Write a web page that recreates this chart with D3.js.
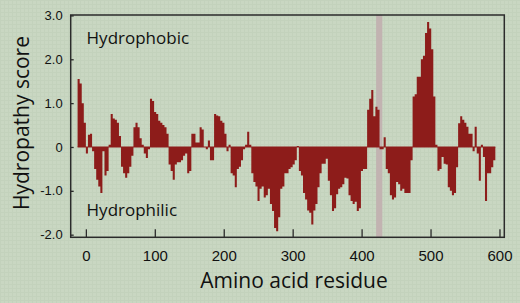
<!DOCTYPE html>
<html>
<head>
<meta charset="utf-8">
<script src="https://cdn.jsdelivr.net/npm/d3@7"></script>
<style>
  html, body { margin: 0; padding: 0; background: #c9d7c2; }
  svg { display: block; font-family: 'Open Sans', 'Liberation Sans', sans-serif; }
</style>
</head>
<body>
<div id="grafico"></div>
<script>
// Hydropathy scores, one value per window of 3 residues, starting at residue -12
const residueStart = -12;
const residueStep = 3;
const scores = [
  1.55, 1.45, 1.0, 0.55, -0.15, 0.28, 0.3, -0.1, -0.5, -0.75,
  -0.9, -1.05, -0.1, -0.65, -0.55, 0.05, 0.75, 0.65, 0.62, 0.55,
  0.25, -0.45, -0.6, -0.7, -0.6, -0.45, -0.2, 0.45, 0.55, 0.45,
  0.2, 0.05, -0.15, -0.25, -0.05, 1.1, 1.05, 0.8, 0.75, 0.6,
  0.55, 0.5, 0.45, 0.3, -0.4, -0.55, -0.75, -0.4, -0.35, -0.35,
  -0.3, -0.2, -0.15, -0.6, -0.55, 0.3, 0.3, 0.1, 0.1, 0.45,
  0.4, 0.0, -0.05, 0.15, -0.3, -0.3, 0.75, 0.72, 0.7, 0.6,
  0.55, 0.3, -0.1, 0.05, -0.6, -0.65, -0.92, -0.5, -0.45, -0.3,
  -0.05, 0.05, 0.35, 0.05, -0.6, -0.8, -0.9, -1.23, -0.95, -0.9,
  -1.15, -1.1, -0.95, -1.3, -1.46, -1.85, -1.92, -1.6, -0.95, -0.9,
  -0.6, -0.6, -0.5, -0.46, -0.4, -0.3, 0.02, -0.55, -0.65, -1.05,
  -1.2, -1.45, -1.5, -1.77, -1.45, -1.3, -0.92, -0.6, -0.38, -0.38,
  -0.27, -0.77, -1.1, -1.46, -1.4, -1.08, -0.95, -0.92, -0.85, -0.7,
  -0.72, -1.1, -1.23, -1.3, -1.25, -1.46, -1.4, -0.55, -0.5, -0.5,
  0.85, 1.1, 1.3, 0.7, 0.92, 0.85, -0.05, -0.05, 0.22, -0.5,
  -0.6, -1.1, -1.2, -1.15, -0.8, -0.85, -1.0, -0.95, -1.05, -1.05,
  -1.05, -0.3, 1.15, 1.2, 1.6, 1.6, 2.0, 2.08, 2.6, 2.85,
  2.7, 2.23, 1.15, 0.05, -0.54, -0.5, -0.23, -0.38, -0.4, -0.92,
  -1.0, -1.1, -1.05, -0.46, 0.54, 0.7, 0.62, 0.55, 0.46, 0.3,
  0.3, -0.1, 0.46, -0.15, -0.77, 0.05, -0.23, -1.23, -0.6, -0.6,
  -0.46, -0.3
];

// Highlighted residue range (grey band)
const highlight = [421, 430];

// Axis ticks
const xTicks = [0, 100, 200, 300, 400, 500, 600];
const yTicks = [-2, -1, 0, 1, 2, 3];
const yTickLabels = ['-2.0', '-1.0', '0', '1.0', '2.0', '3.0'];

function criarGrafico() {
  const largura = 520;
  const altura = 303;
  const margem = { top: 15, right: 15.7, bottom: 65.7, left: 70.7 };
  const w = largura - margem.left - margem.right;
  const h = altura - margem.top - margem.bottom;

  const svg = d3
    .select('#grafico')
    .append('svg')
    .attr('width', largura)
    .attr('height', altura);

  // Fine grid texture of the background
  const pattern = svg
    .append('defs')
    .append('pattern')
    .attr('id', 'textura')
    .attr('width', 4)
    .attr('height', 4)
    .attr('patternUnits', 'userSpaceOnUse');
  pattern.append('rect').attr('width', 4).attr('height', 4).attr('fill', '#c9d7c2');
  pattern.append('rect').attr('width', 4).attr('height', 1).attr('fill', '#c3d2bc');
  pattern.append('rect').attr('width', 1).attr('height', 4).attr('fill', '#c3d2bc');

  svg
    .append('rect')
    .attr('width', largura)
    .attr('height', altura)
    .attr('fill', 'url(#textura)');

  const g = svg.append('g').attr('transform', `translate(${margem.left},${margem.top})`);

  const x = d3.scaleLinear().domain([-22, 607]).range([0, w]);
  const y = d3.scaleLinear().domain([-2.06, 3.01]).range([h, 0]);

  // Grey band
  g.append('rect')
    .attr('x', x(highlight[0]))
    .attr('width', x(highlight[1]) - x(highlight[0]))
    .attr('y', 0)
    .attr('height', h)
    .attr('fill', '#c2b3b1');

  const dados = scores.map((v, i) => ({ r: residueStart + i * residueStep, v }));
  // last point closes the final step
  dados.push({ r: residueStart + scores.length * residueStep, v: scores[scores.length - 1] });

  // Bars from zero, drawn as one stepped area so no seams show
  const area = d3
    .area()
    .curve(d3.curveStepAfter)
    .x((d) => x(d.r))
    .y0(y(0))
    .y1((d) => y(d.v));

  g.append('path').datum(dados).attr('d', area).attr('fill', '#8d1c1a');

  // Zero line
  g.append('line')
    .attr('x1', x(residueStart))
    .attr('x2', x(residueStart + scores.length * residueStep))
    .attr('y1', y(0))
    .attr('y2', y(0))
    .attr('stroke', '#8d1c1a')
    .attr('stroke-width', 1.2);

  // X axis: ticks pointing inward
  const eixoX = g
    .append('g')
    .attr('transform', `translate(0,${h})`)
    .call(d3.axisBottom(x).tickValues(xTicks).tickSize(-8).tickPadding(13).tickFormat(d3.format('d')));
  eixoX.select('.domain').remove();
  eixoX.selectAll('line').attr('stroke', '#2b2b2b').attr('stroke-width', 1.3);
  eixoX.selectAll('text').attr('font-size', 15).attr('fill', '#111').attr('font-family', null);

  // Y axis
  const eixoY = g
    .append('g')
    .call(
      d3
        .axisLeft(y)
        .tickValues(yTicks)
        .tickSize(-3)
        .tickPadding(8)
        .tickFormat((d, i) => yTickLabels[i])
    );
  eixoY.select('.domain').remove();
  eixoY.selectAll('line').attr('stroke', '#2b2b2b').attr('stroke-width', 1.3);
  eixoY.selectAll('text').attr('font-size', 13).attr('fill', '#111').attr('font-family', null);

  // Frame
  g.append('rect')
    .attr('width', w)
    .attr('height', h)
    .attr('fill', 'none')
    .attr('stroke', '#2b2b2b')
    .attr('stroke-width', 1.5);

  // Labels inside the plot
  g.append('text')
    .attr('x', x(-20) + 14.5)
    .attr('y', 28.5)
    .attr('font-size', 17)
    .attr('fill', '#111')
    .text('Hydrophobic');

  g.append('text')
    .attr('x', x(-20) + 14.5)
    .attr('y', 201)
    .attr('font-size', 17)
    .attr('fill', '#111')
    .text('Hydrophilic');

  // Axis titles
  svg
    .append('text')
    .attr('transform', 'translate(29,123) rotate(-90)')
    .attr('text-anchor', 'middle')
    .attr('font-size', 21)
    .attr('fill', '#111')
    .text('Hydropathy score');

  svg
    .append('text')
    .attr('x', 294)
    .attr('y', 288)
    .attr('text-anchor', 'middle')
    .attr('font-size', 21)
    .attr('fill', '#111')
    .text('Amino acid residue');
}

criarGrafico();
</script>
</body>
</html>
